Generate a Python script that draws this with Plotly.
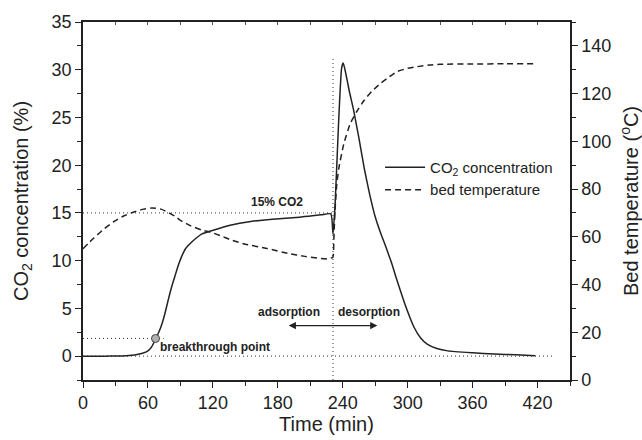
import plotly.graph_objects as go

# ---------------- data ----------------
co2_t = [0, 20, 30, 40, 45, 50, 55, 60, 63, 65, 67, 70, 73, 76, 79, 82, 85, 88, 91, 95,
         100, 105, 110, 118, 136, 155, 175, 200, 220, 229, 231, 233, 236, 239, 240.5,
         243, 246, 250, 255, 260, 265, 270, 275, 280, 285, 290, 297, 306, 312, 318, 327,
         337, 360, 380, 400, 418]
co2_c = [0, 0, 0.01, 0.05, 0.1, 0.18, 0.3, 0.55, 0.9, 1.3, 1.85, 2.5, 3.4, 4.6, 6.0,
         7.3, 8.4, 9.5, 10.4, 11.3, 11.9, 12.4, 12.8, 13.1, 13.7, 14.1, 14.35, 14.55,
         14.8, 14.9, 12.8, 16.0, 24.0, 30.2, 30.7, 29.5, 27.8, 25.8, 22.8, 19.6, 16.9,
         14.6, 12.9, 11.4, 9.8, 8.0, 5.6, 3.0, 1.9, 1.26, 0.8, 0.55, 0.35, 0.22, 0.14, 0.05]

temp_t = [0, 10, 20, 28, 38, 47, 56, 64, 72, 78, 85, 90, 100, 110, 118, 128, 136, 150,
          170, 190, 205, 220, 228, 230, 231, 232, 233, 234.5, 236.5, 241, 247, 253,
          260, 267, 275, 283, 290, 300, 309, 320, 330, 360, 390, 418]
temp_T = [55.0, 59.5, 63.5, 66.2, 68.8, 70.4, 71.6, 72.1, 71.6, 70.4, 68.6, 66.9, 64.5,
          62.8, 61.9, 60.3, 58.8, 56.9, 55.1, 53.0, 51.8, 50.9, 50.7, 51.2, 51.5, 62,
          72, 82, 89, 99, 107.5, 112.5, 117.3, 121, 124.3, 127, 129.2, 130.6, 131.3,
          132.0, 132.3, 132.4, 132.5, 132.5]

bt_point = (67, 1.85)          # breakthrough point
switch_t = 231                 # adsorption -> desorption switch
feed_c = 15                    # feed CO2 concentration

x_ticks = [0, 60, 120, 180, 240, 300, 360, 420]
y1_ticks = [0, 5, 10, 15, 20, 25, 30, 35]
y2_ticks = [0, 20, 40, 60, 80, 100, 120, 140]

FONT = "Liberation Sans, Arial, sans-serif"
INK = "#222222"

fig = go.Figure()

# reference dotted lines
dot = dict(color="#333333", width=1, dash="1px,3px")
fig.add_trace(go.Scatter(x=[0, 236], y=[feed_c, feed_c], mode="lines", line=dot,
                         showlegend=False, hoverinfo="skip"))
fig.add_trace(go.Scatter(x=[0, 434], y=[0, 0], mode="lines", line=dot,
                         showlegend=False, hoverinfo="skip"))
fig.add_trace(go.Scatter(x=[0, 74.5], y=[bt_point[1], bt_point[1]], mode="lines", line=dot,
                         showlegend=False, hoverinfo="skip"))
fig.add_trace(go.Scatter(x=[switch_t, switch_t], y=[-2.5, 31.4], mode="lines", line=dot,
                         showlegend=False, hoverinfo="skip"))

# main curves
fig.add_trace(go.Scatter(x=co2_t, y=co2_c, mode="lines", name="CO<sub>2</sub> concentration",
                         line=dict(color=INK, width=1.5, shape="spline", smoothing=0.5)))
fig.add_trace(go.Scatter(x=temp_t, y=temp_T, mode="lines", name="bed temperature",
                         line=dict(color=INK, width=1.5, dash="6px,4px", shape="spline",
                                   smoothing=0.5),
                         yaxis="y2"))

# breakthrough marker
fig.add_trace(go.Scatter(x=[bt_point[0]], y=[bt_point[1]], mode="markers",
                         marker=dict(size=8, color="#b0b0b0", line=dict(color="#444", width=1)),
                         showlegend=False, hoverinfo="skip"))

# dummy trace for top mirror axis
fig.add_trace(go.Scatter(x=[0], y=[0], xaxis="x2", mode="markers",
                         marker=dict(opacity=0), showlegend=False, hoverinfo="skip"))

bold = dict(family=FONT, size=12, color=INK)
ann = [
    dict(x=179.5, y=16.1, text="<b>15% CO2</b>", showarrow=False, font=bold),
    dict(x=69.4, y=1.0, text="<b>breakthrough point</b>", showarrow=False, font=bold,
         xanchor="left"),
    dict(x=221, y=4.6, text="<b>adsorption</b>", showarrow=False, font=bold, xanchor="right"),
    dict(x=233.4, y=4.6, text="<b>desorption</b>", showarrow=False, font=bold, xanchor="left"),
    dict(x=272, y=3.2, ax=188.7, ay=3.2, xref="x", yref="y", axref="x", ayref="y",
         text="", showarrow=True, arrowside="end+start", arrowhead=2, arrowsize=1.2,
         arrowwidth=1.2, arrowcolor=INK),
]

axis_common = dict(showline=True, linecolor=INK, linewidth=1.5, ticks="outside",
                   tickcolor=INK, tickwidth=1.2, ticklen=6, showgrid=False, zeroline=False,
                   automargin=False,
                   tickfont=dict(family=FONT, size=18, color=INK))

fig.update_layout(
    width=642, height=440,
    margin=dict(l=83, r=72, t=22, b=60),
    plot_bgcolor="white", paper_bgcolor="white",
    font=dict(family=FONT, color=INK),
    showlegend=True,
    legend=dict(x=0.61, y=0.64, xanchor="left", yanchor="top", bgcolor="rgba(0,0,0,0)",
                font=dict(family=FONT, size=15, color=INK), itemwidth=40,
                tracegroupgap=0),
    xaxis=dict(range=[0, 450], tickvals=x_ticks,
               minor=dict(dtick=30, tick0=0, ticks="outside", ticklen=4, tickcolor=INK),
               title=dict(text="Time (min)", font=dict(family=FONT, size=20, color=INK),
                          standoff=0),
               **axis_common),
    xaxis2=dict(range=[0, 450], overlaying="x", side="top", showline=True, linecolor=INK,
                linewidth=1.5, ticks="inside", dtick=30, tick0=0, ticklen=3,
                tickcolor="#555", showticklabels=False, showgrid=False, zeroline=False,
                automargin=False),
    yaxis=dict(range=[-2.5, 35], tickvals=y1_ticks,
               minor=dict(dtick=2.5, tick0=0, ticks="outside", ticklen=4, tickcolor=INK),
               title=dict(text="CO<sub>2</sub> concentration (%)",
                          font=dict(family=FONT, size=20, color=INK), standoff=18),
               **axis_common),
    yaxis2=dict(range=[0, 150], tickvals=y2_ticks, overlaying="y", side="right",
                minor=dict(dtick=10, tick0=0, ticks="outside", ticklen=4, tickcolor=INK),
                title=dict(text="Bed temperature (<sup>o</sup>C)",
                           font=dict(family=FONT, size=20, color=INK), standoff=24),
                **axis_common),
    annotations=ann,
)

fig.write_html("out.html")
